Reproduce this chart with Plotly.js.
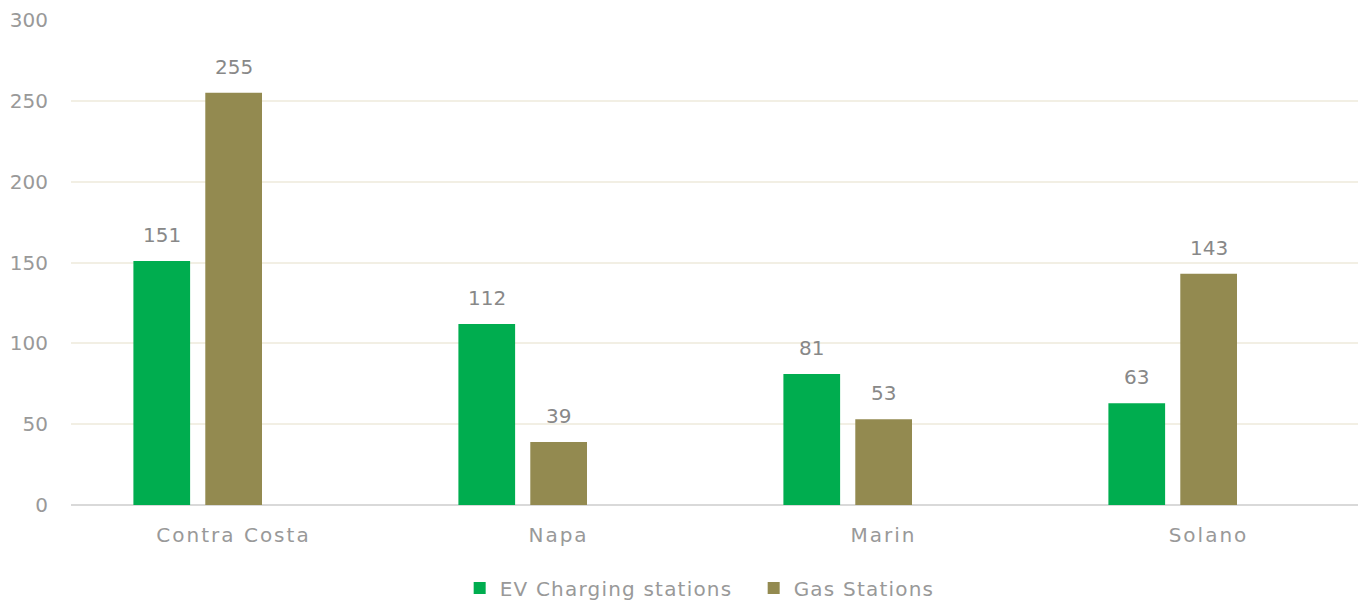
<!DOCTYPE html>
<html><head><meta charset="utf-8">
<script src="https://cdn.plot.ly/plotly-3.0.1.min.js"></script>
<style>
body{margin:0;background:#fff}#c{width:1358px;height:602px}
#c .xtick text{letter-spacing:2px}
#c .legendtext{letter-spacing:1.2px}
</style>
</head><body><div id="c"></div>
<script>
const categories = ["Contra Costa", "Napa", "Marin", "Solano"];
const evStations = [151, 112, 81, 63];
const gasStations = [255, 39, 53, 143];
const yTicks = [0, 50, 100, 150, 200, 250, 300];

const fam = "'DejaVu Sans', sans-serif";
const BAR_W = 0.1745, EV_OFF = -0.308, GAS_OFF = -0.0868, CAT_PX = 325;
const traces = [
  {type: "bar", name: "EV Charging stations", x: categories, y: evStations,
   marker: {color: "#00AD4F"}, width: BAR_W, offset: EV_OFF, hoverinfo: "x+y"},
  {type: "bar", name: "Gas Stations", x: categories, y: gasStations,
   marker: {color: "#938A50"}, width: BAR_W, offset: GAS_OFF, hoverinfo: "x+y"}
];
const labelFont = {family: fam, color: "#888888", size: 20};
const annotations = [];
[[evStations, EV_OFF], [gasStations, GAS_OFF]].forEach(([vals, off]) => {
  vals.forEach((v, i) => annotations.push({
    x: categories[i], y: v, text: String(v), showarrow: false,
    xanchor: "center", yanchor: "bottom", yshift: 12,
    xshift: (off + BAR_W / 2) * CAT_PX, font: labelFont
  }));
});
const layout = {
  width: 1358, height: 602,
  margin: {l: 71, r: 0, t: 20, b: 97, autoexpand: false},
  paper_bgcolor: "#fff", plot_bgcolor: "#fff",
  font: {family: fam, color: "#999999", size: 20},
  showlegend: true,
  legend: {orientation: "h", x: 0.302, xanchor: "left", y: -0.171, yanchor: "middle",
           entrywidth: 249, entrywidthmode: "pixels",
           font: {family: fam, color: "#999999", size: 20}},
  xaxis: {type: "category", range: [-0.5, 3.46], showgrid: false, zeroline: false,
          showline: false, ticks: "", ticklabelstandoff: 16, automargin: false},
  yaxis: {range: [0, 300], tickvals: yTicks, ticktext: yTicks.map(String),
          showgrid: true, gridcolor: "#F2EFE4", gridwidth: 2, zeroline: true,
          zerolinecolor: "#D9D9D9", zerolinewidth: 2, showline: false, ticks: "",
          ticklabelstandoff: 22, automargin: false},
  annotations: annotations
};
Plotly.newPlot("c", traces, layout, {displayModeBar: false, staticPlot: true});
</script></body></html>
